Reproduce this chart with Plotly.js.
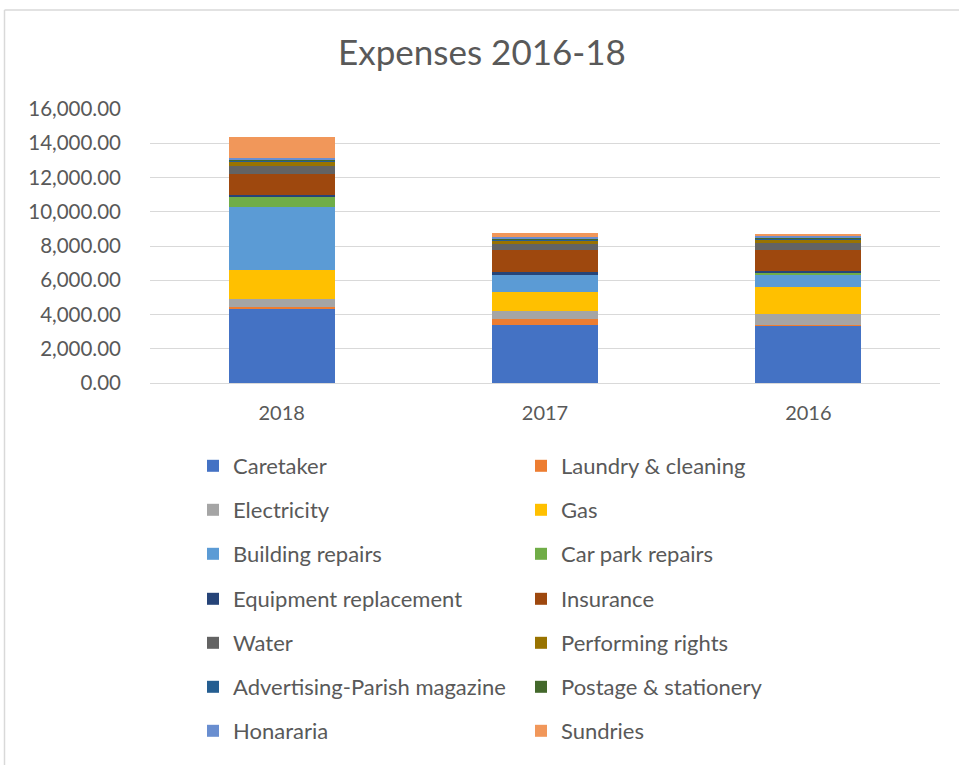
<!DOCTYPE html>
<html>
<head>
<meta charset="utf-8">
<script src="https://cdn.plot.ly/plotly-3.0.1.min.js"></script>
<style>html,body{margin:0;padding:0;background:#fff;}#chart{width:959px;height:765px;}</style>
</head>
<body>
<div id="chart"></div>
<script>
var years = ['2018', '2017', '2016'];
var seriesNames = ['Caretaker', 'Laundry & cleaning', 'Electricity', 'Gas', 'Building repairs', 'Car park repairs',
  'Equipment replacement', 'Insurance', 'Water', 'Performing rights', 'Advertising-Parish magazine',
  'Postage & stationery', 'Honararia', 'Sundries'];
var caretaker = [4350, 3360, 3300];
var laundry = [100, 350, 115];
var electricity = [470, 470, 640];
var gas = [1670, 1160, 1530];
var buildingRepairs = [3700, 970, 700];
var carParkRepairs = [580, 10, 135];
var equipment = [100, 170, 115];
var insurance = [1260, 1280, 1250];
var water = [420, 370, 370];
var performingRights = [250, 155, 170];
var advertising = [70, 60, 75];
var postage = [50, 60, 75];
var honararia = [100, 95, 100];
var sundries = [1230, 233, 130];
var yTicks = [0, 2000, 4000, 6000, 8000, 10000, 12000, 14000, 16000];

var seriesValues = [caretaker, laundry, electricity, gas, buildingRepairs, carParkRepairs, equipment,
  insurance, water, performingRights, advertising, postage, honararia, sundries];
var colors = ['#4472C4', '#ED7D31', '#A5A5A5', '#FFC000', '#5B9BD5', '#70AD47', '#264478',
  '#9E480E', '#636363', '#997300', '#255E91', '#43682B', '#698ED0', '#F1975A'];

var FONT = 'Lato, "Open Sans", sans-serif';
var TXT = '#595959';

var traces = seriesNames.map(function (n, i) {
  var row = Math.floor(i / 2);
  return {
    type: 'bar', name: n, x: years, y: seriesValues[i],
    marker: {color: colors[i], line: {width: 0}},
    legend: row === 0 ? 'legend' : 'legend' + (row + 1),
    hoverinfo: 'name+y'
  };
});

var L = 150, R = 19, T = 109, B = 382, W = 959, H = 765;
var pw = W - L - R, ph = H - T - B;
function px2x(p) { return (p - L) / pw; }
function py2y(p) { return (H - B - p) / ph; }

var layout = {
  width: W, height: H,
  margin: {l: L, r: R, t: T, b: B, pad: 0},
  paper_bgcolor: '#ffffff', plot_bgcolor: '#ffffff',
  barmode: 'stack', bargap: 0.597,
  font: {family: FONT, color: TXT},
  title: {text: 'Expenses 2016-18', font: {family: FONT, size: 35, color: TXT},
    x: px2x(482), xanchor: 'center', y: 1 - 53 / H, yanchor: 'middle', xref: 'paper'},
  xaxis: {type: 'category', showgrid: false, showline: false, zeroline: false, ticks: '',
    tickfont: {family: FONT, size: 20, color: TXT}, ticklabelstandoff: 16},
  yaxis: {range: [0, 16000], tickvals: yTicks, tickformat: ',.2f', showgrid: true, gridcolor: '#d9d9d9',
    gridwidth: 1, zeroline: true, zerolinecolor: '#d9d9d9', zerolinewidth: 1, showline: false, ticks: '',
    tickfont: {family: FONT, size: 20.5, color: TXT}, ticklabelstandoff: 28},
  shapes: [
    {type: 'line', xref: 'paper', yref: 'paper', x0: px2x(4.5), x1: px2x(4.5), y0: py2y(10), y1: py2y(770),
      line: {color: '#d9d9d9', width: 1.5}},
    {type: 'line', xref: 'paper', yref: 'paper', x0: px2x(4.5), x1: px2x(965), y0: py2y(10), y1: py2y(10),
      line: {color: '#d9d9d9', width: 1.5}}
  ]
};

var rowY = [466, 510, 554, 599, 643, 687, 731];
rowY.forEach(function (ry, k) {
  var key = k === 0 ? 'legend' : 'legend' + (k + 1);
  layout[key] = {
    orientation: 'h', x: px2x(193), xanchor: 'left', y: py2y(ry), yanchor: 'middle',
    entrywidth: 283, entrywidthmode: 'pixels', traceorder: 'normal',
    font: {family: FONT, size: 22, color: TXT}, bgcolor: 'rgba(0,0,0,0)', borderwidth: 0
  };
});

Plotly.newPlot('chart', traces, layout, {displayModeBar: false, staticPlot: true});
</script>
</body>
</html>
